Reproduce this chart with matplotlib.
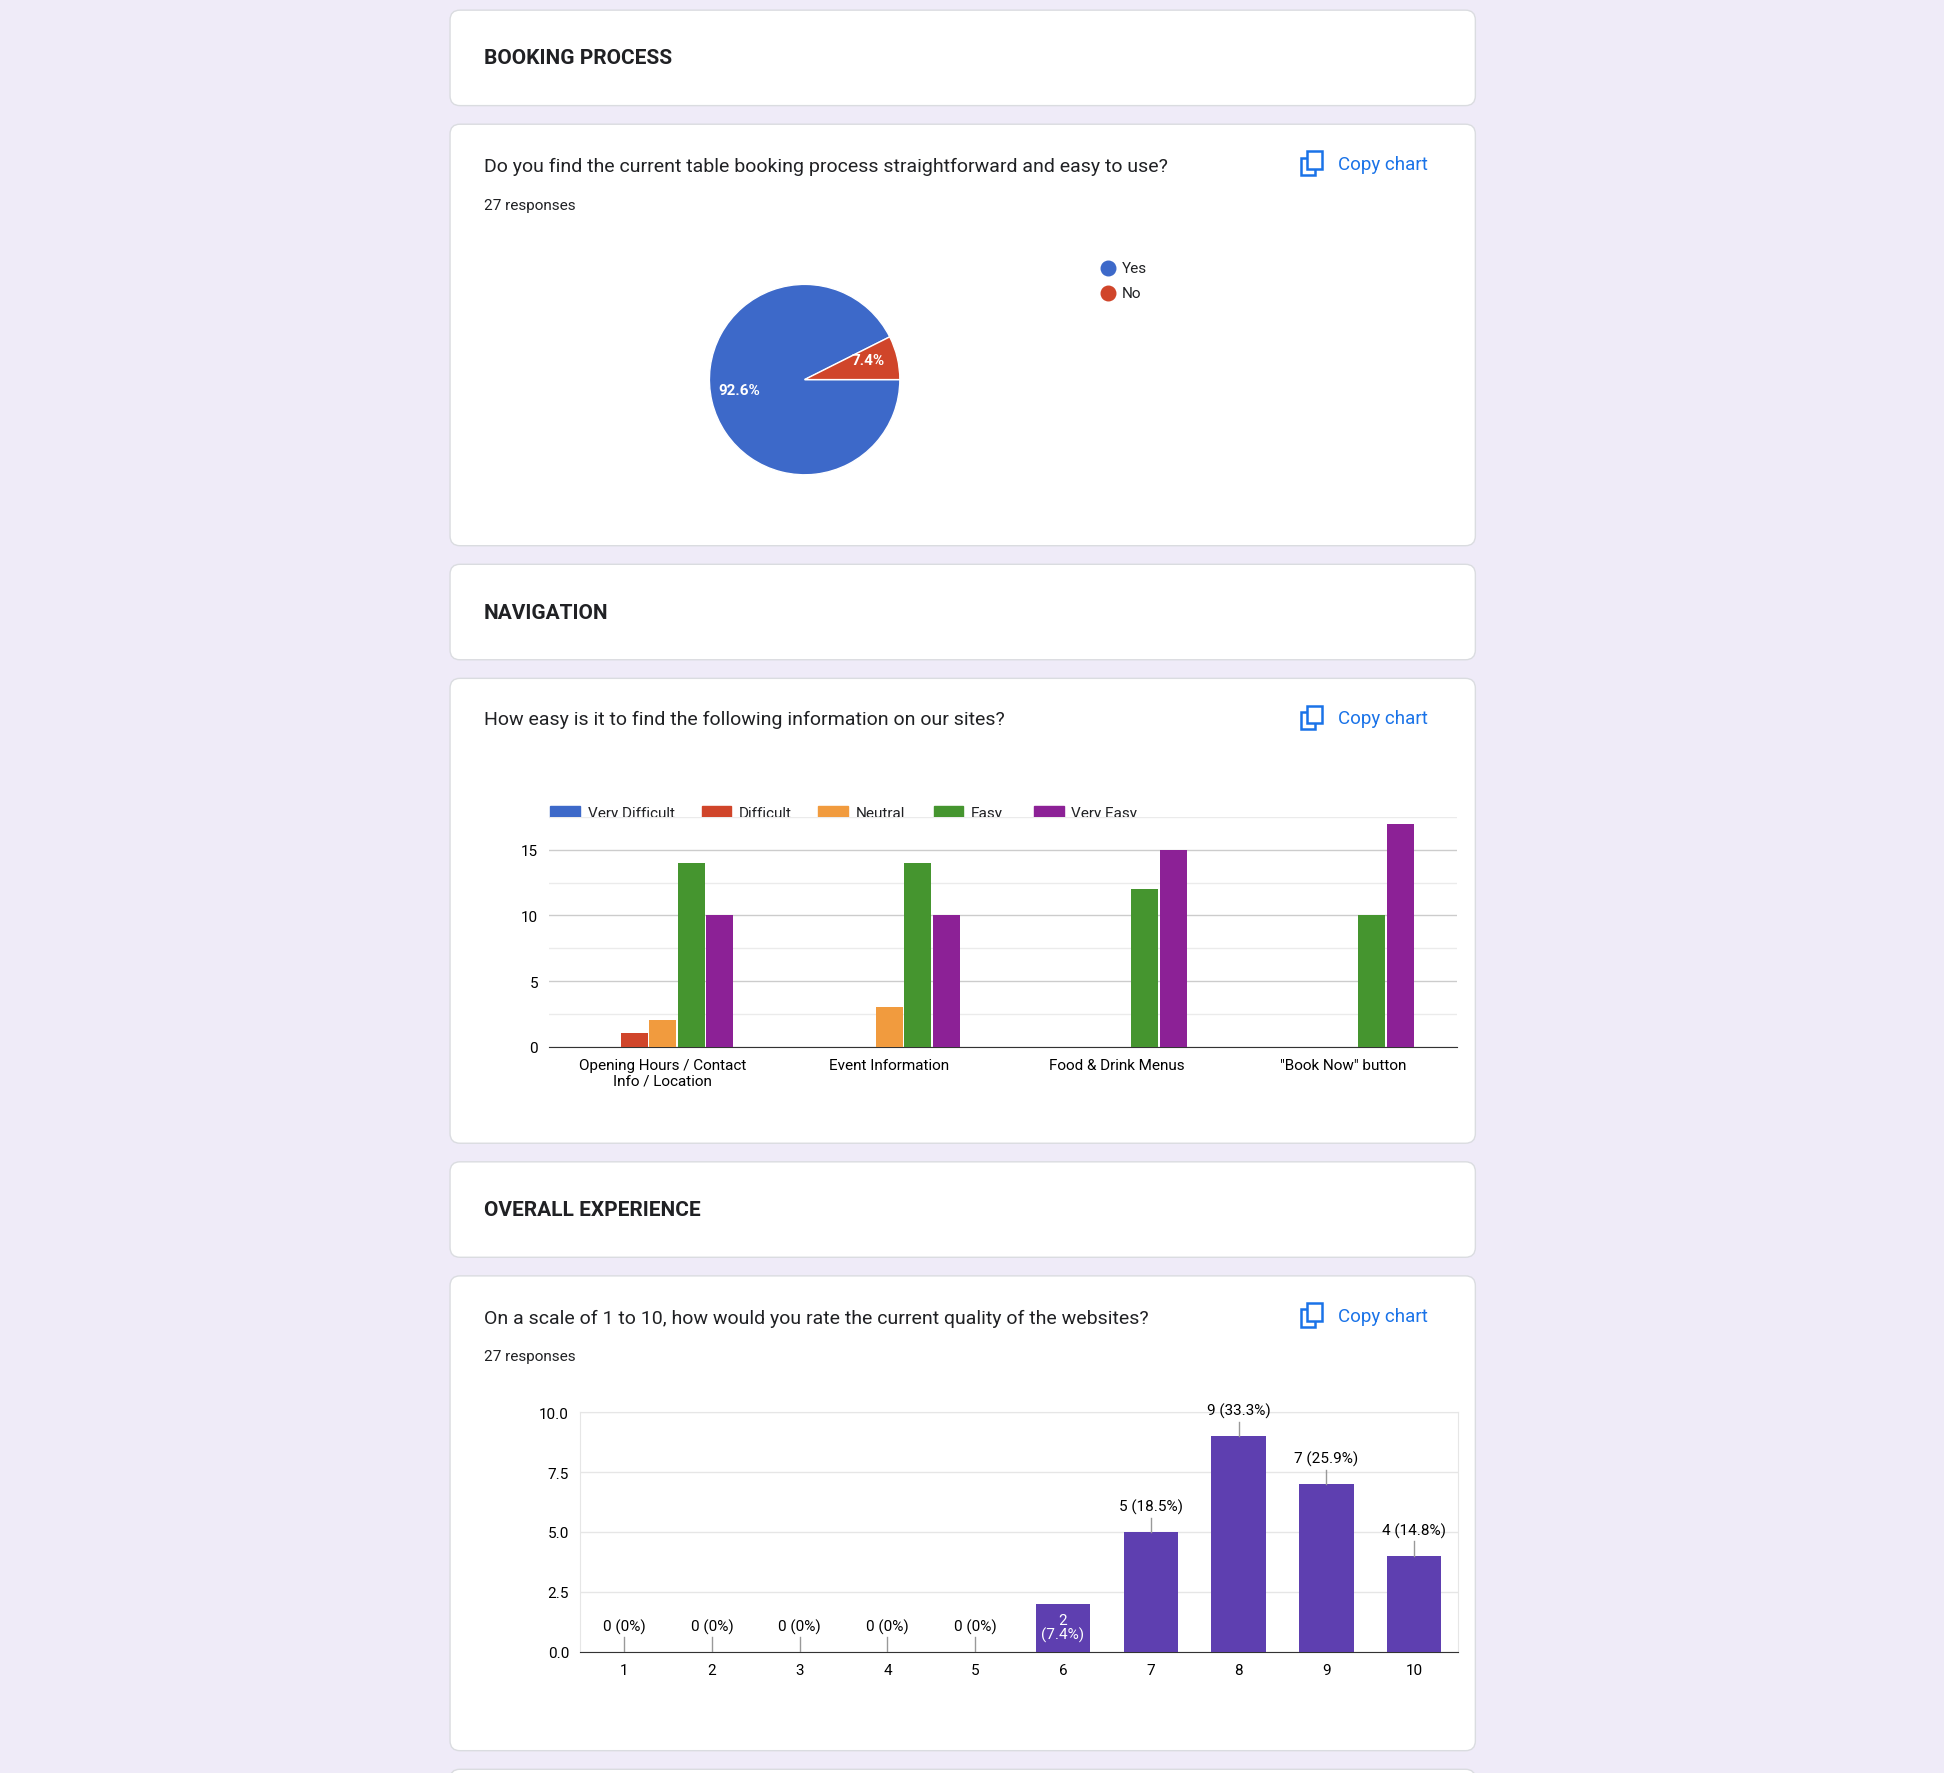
"""Recreate the survey summary page (booking / navigation / overall experience)."""

import matplotlib.pyplot as plt
from matplotlib.patches import FancyBboxPatch, Rectangle
import numpy as np

# ---- data ----
pie_labels = ["Yes", "No"]
pie_values = [25, 2]
pie_pcts = ["92.6%", "7.4%"]

nav_groups = ["Opening Hours / Contact\nInfo / Location", "Event Information",
              "Food & Drink Menus", '"Book Now" button']
nav_series = ["Very Difficult", "Difficult", "Neutral", "Easy", "Very Easy"]
very_difficult = [0, 0, 0, 0]
difficult = [1, 0, 0, 0]
neutral = [2, 3, 0, 0]
easy = [14, 14, 12, 10]
very_easy = [10, 10, 15, 17]

rating_scores = [1, 2, 3, 4, 5, 6, 7, 8, 9, 10]
rating_counts = [0, 0, 0, 0, 0, 2, 5, 9, 7, 4]
rating_labels = ["0 (0%)", "0 (0%)", "0 (0%)", "0 (0%)", "0 (0%)", "2\n(7.4%)",
                 "5 (18.5%)", "9 (33.3%)", "7 (25.9%)", "4 (14.8%)"]

# ---- layout helpers (coords measured on a 1568x1431 view) ----
W, H = 1568.0, 1431.0
BG = "#efebf8"
BLUE = "#1a73e8"
plt.rcParams["font.family"] = ["Roboto", "DejaVu Sans"]

fig = plt.figure(figsize=(19.44, 17.74), dpi=100)
fig.patch.set_facecolor(BG)
base = fig.add_axes([0, 0, 1, 1])
base.set_xlim(0, W)
base.set_ylim(H, 0)
base.axis("off")


def rect(x0, y0, x1, y1):
    return [x0 / W, 1 - y1 / H, (x1 - x0) / W, (y1 - y0) / H]


def card(y0, y1):
    base.add_patch(FancyBboxPatch((363, y0), 827, y1 - y0,
                                  boxstyle="round,pad=0,rounding_size=8",
                                  fc="white", ec="#dadce0", lw=1))


def header(y0, y1, text):
    card(y0, y1)
    base.text(390, (y0 + y1) / 2, text, fontsize=15, fontweight="bold",
              va="center", color="#202124")


def copy_chart(y):
    base.add_patch(Rectangle((1049, y - 5), 12, 14, fill=False, ec=BLUE, lw=1.8))
    base.add_patch(Rectangle((1054, y - 10), 12, 14, fc="white", ec=BLUE, lw=1.8))
    base.text(1079, y, "Copy chart", fontsize=13.5, color=BLUE, va="center")


header(9, 86, "BOOKING PROCESS")
card(101, 441)
base.text(390, 135, "Do you find the current table booking process straightforward and easy to use?",
          fontsize=14, va="center", color="#202124")
base.text(390, 166, "27 responses", fontsize=11, va="center", color="#202124")
copy_chart(133)

header(456, 533, "NAVIGATION")
card(548, 923)
base.text(390, 581, "How easy is it to find the following information on our sites?",
          fontsize=14, va="center", color="#202124")
copy_chart(580)

header(938, 1015, "OVERALL EXPERIENCE")
card(1030, 1413)
base.text(390, 1064, "On a scale of 1 to 10, how would you rate the current quality of the websites?",
          fontsize=14, va="center", color="#202124")
base.text(390, 1095, "27 responses", fontsize=11, va="center", color="#202124")
copy_chart(1062)
card(1428, 1500)

# ---- pie ----
pie_colors = ["#3d69c9", "#d0452a"]
ax_pie = fig.add_axes(rect(553, 211, 745, 403))
wedges, _ = ax_pie.pie(pie_values, colors=pie_colors, startangle=360 * 2 / 27,
                       wedgeprops=dict(ec="white", lw=1))
ax_pie.set_aspect("equal")
for w, txt, r in zip(wedges, pie_pcts, [0.7, 0.7]):
    ang = np.deg2rad((w.theta1 + w.theta2) / 2)
    if txt == "92.6%":
        ang = np.deg2rad(189)
    else:
        ang = np.deg2rad(17)
    ax_pie.text(r * np.cos(ang), r * np.sin(ang), txt, color="white",
                fontsize=11, fontweight="bold", ha="center", va="center")
for i, (lab, c) in enumerate(zip(pie_labels, pie_colors)):
    base.scatter([894], [217 + 20 * i], s=110, color=c)
    base.text(905, 217 + 20 * i, lab, fontsize=11, va="center", color="#202124")

# ---- navigation grouped bars ----
nav_colors = ["#3d69c9", "#d0452a", "#f19b3e", "#45952f", "#8c2196"]
ax_nav = fig.add_axes(rect(443, 660, 1175, 845))
series = [very_difficult, difficult, neutral, easy, very_easy]
x = np.arange(len(nav_groups))
bw = 0.125
for i, (vals, c) in enumerate(zip(series, nav_colors)):
    ax_nav.bar(x + (i - 2) * bw, vals, bw * 0.95, color=c, zorder=3)
ax_nav.set_xlim(-0.5, len(nav_groups) - 0.5)
ax_nav.set_ylim(0, 17.5)
ax_nav.set_yticks([0, 5, 10, 15])
ax_nav.set_yticks([2.5, 7.5, 12.5, 17.5], minor=True)
ax_nav.grid(axis="y", which="major", color="#cccccc", lw=1, zorder=0)
ax_nav.grid(axis="y", which="minor", color="#ebebeb", lw=1, zorder=0)
ax_nav.set_xticks(x)
ax_nav.set_xticklabels(nav_groups, fontsize=11)
ax_nav.tick_params(length=0, labelsize=11, pad=8)
ax_nav.tick_params(axis="y", which="minor", length=0)
for s in ["top", "right", "left"]:
    ax_nav.spines[s].set_visible(False)
ax_nav.spines["bottom"].set_color("#333333")
for i, (name, c) in enumerate(zip(nav_series, nav_colors)):
    lx = [444, 566, 660, 753, 834][i]
    base.add_patch(Rectangle((lx, 651), 24, 12, color=c))
    base.text(lx + 30, 657, name, fontsize=11, va="center", color="#202124")

# ---- rating histogram ----
ax_r = fig.add_axes(rect(468, 1140, 1176, 1333))
ax_r.bar(rating_scores, rating_counts, 0.62, color="#5e3fb0", zorder=3)
ax_r.set_xlim(0.5, 10.5)
ax_r.set_ylim(0, 10)
ax_r.set_yticks([0, 2.5, 5, 7.5, 10])
ax_r.set_yticklabels(["0.0", "2.5", "5.0", "7.5", "10.0"])
ax_r.set_xticks(rating_scores)
ax_r.tick_params(length=0, labelsize=11, pad=8)
ax_r.grid(axis="y", color="#e6e6e6", lw=1, zorder=0)
for s in ["top", "right", "left"]:
    ax_r.spines[s].set_color("#e6e6e6")
ax_r.spines["bottom"].set_color("#333333")
for sc, cnt, lab in zip(rating_scores, rating_counts, rating_labels):
    if cnt == 2:
        ax_r.text(sc, cnt / 2, lab, ha="center", va="center", color="white",
                  fontsize=11, linespacing=1.0)
        continue
    ax_r.plot([sc, sc], [cnt, cnt + 0.6], color="#999999", lw=1, zorder=4)
    ax_r.text(sc, cnt + 0.75, lab, ha="center", va="bottom", fontsize=11, zorder=5)

fig.savefig("out.png", dpi=100, facecolor=BG)
